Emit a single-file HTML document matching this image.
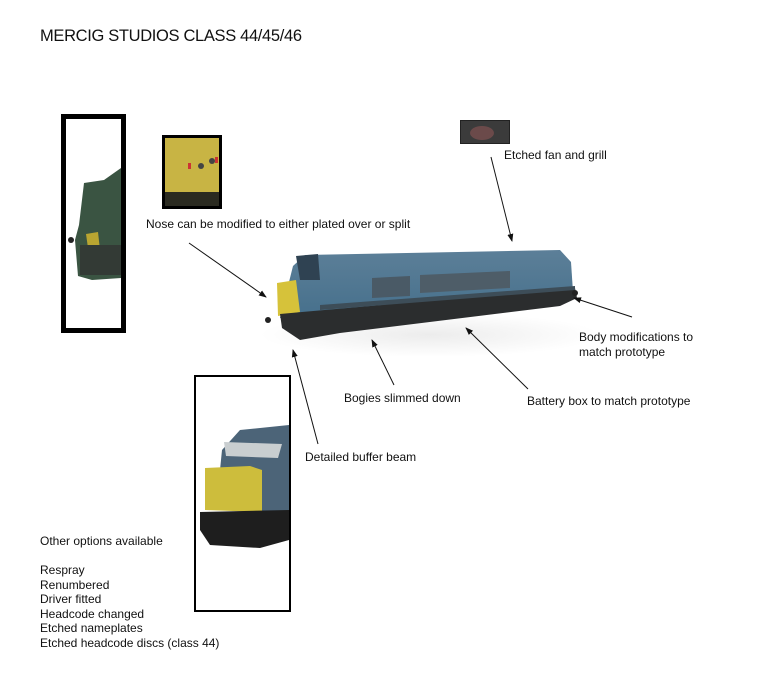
<!DOCTYPE html>
<html><head><meta charset="utf-8"><style>
html,body{margin:0;padding:0;background:#fff;}
svg{display:block;}
text{font-family:"Liberation Sans",Arial,sans-serif;fill:#111;}
</style></head><body>
<svg width="768" height="677" viewBox="0 0 768 677" xmlns="http://www.w3.org/2000/svg">
<defs>
<marker id="ah" markerWidth="8" markerHeight="8" refX="7" refY="4" orient="auto" markerUnits="userSpaceOnUse">
<path d="M0,1 L8,4 L0,7 z" fill="#111"/></marker>
<linearGradient id="blue" x1="0" y1="0" x2="0" y2="1">
<stop offset="0" stop-color="#5c7f98"/><stop offset="1" stop-color="#46708c"/></linearGradient>
<radialGradient id="shadow" cx="0.5" cy="0.5" r="0.5">
<stop offset="0" stop-color="#ececec"/><stop offset="1" stop-color="#fff"/></radialGradient>
</defs>

<text x="40" y="41" font-size="16.5" textLength="262">MERCIG STUDIOS CLASS 44/45/46</text>

<!-- left inset -->
<rect x="63.5" y="116.5" width="60" height="214" fill="#fff" stroke="#000" stroke-width="5"/>
<path d="M121,168 L104,180 L84,183 L79,225 L75,240 L78,276 L92,280 L121,278 Z" fill="#3a5442"/>
<path d="M86,234 L98,232 L100,250 L88,248 Z" fill="#b9a531"/>
<rect x="80" y="245" width="41" height="30" fill="#333a35"/>
<circle cx="71" cy="240" r="3" fill="#222"/>

<!-- nose inset -->
<rect x="163.5" y="136.5" width="57" height="71" fill="#c8b444" stroke="#000" stroke-width="3"/>
<rect x="165" y="192" width="54" height="14" fill="#2a2a20"/>
<circle cx="201" cy="166" r="3" fill="#444"/>
<circle cx="212" cy="161" r="3" fill="#444"/>
<rect x="188" y="163" width="3" height="6" fill="#c33"/><rect x="215" y="157" width="3" height="6" fill="#c33"/>

<!-- fan inset -->
<rect x="460.5" y="120.5" width="49" height="23" fill="#3b3b3b" stroke="#222"/>
<ellipse cx="482" cy="133" rx="12" ry="7" fill="#6b4a4a"/>

<!-- shadow -->
<ellipse cx="430" cy="335" rx="170" ry="22" fill="url(#shadow)"/>

<!-- loco -->
<path d="M293,266 L305,255 L560,250 L571,262 L573,292 L303,318 L280,318 Z" fill="url(#blue)"/>
<path d="M296,256 L318,254 L320,280 L300,280 Z" fill="#2f4252"/>
<path d="M277,283 L296,280 L300,312 L278,316 Z" fill="#d6c23a"/>
<path d="M280,314 L302,312 L575,288 L577,298 L560,306 L340,333 L300,340 L282,328 Z" fill="#2b2d2e"/>
<path d="M372,278 L410,276 L410,296 L372,298 Z" fill="#4a5a66"/>
<path d="M420,275 L510,271 L510,288 L420,293 Z" fill="#4e5d68"/>
<path d="M320,305 L575,286 L575,290 L320,310 Z" fill="#3d4d58"/>
<circle cx="268" cy="320" r="3" fill="#222"/><circle cx="575" cy="293" r="3" fill="#222"/>

<!-- bottom inset -->
<rect x="195" y="376" width="95" height="235" fill="#fff" stroke="#000" stroke-width="2"/>
<path d="M289,425 L240,430 L222,450 L220,470 L289,470 Z" fill="#4c6478"/>
<path d="M224,442 L282,444 L278,458 L226,456 Z" fill="#c9ced0"/>
<path d="M205,468 L250,466 L262,470 L262,512 L205,510 Z" fill="#cdbd3c"/>
<rect x="262" y="470" width="27" height="50" fill="#4c6478"/>
<path d="M200,512 L289,510 L289,540 L260,548 L210,545 L200,530 Z" fill="#1e1e1e"/>

<!-- labels -->
<text x="504" y="159" font-size="12">Etched fan and grill</text>
<text x="146" y="228" font-size="12">Nose can be modified to either plated over or split</text>
<text x="579" y="341" font-size="12">Body modifications to</text>
<text x="579" y="356" font-size="12">match prototype</text>
<text x="344" y="402" font-size="12">Bogies slimmed down</text>
<text x="527" y="405" font-size="12">Battery box to match prototype</text>
<text x="305" y="461" font-size="12">Detailed buffer beam</text>

<text x="40" y="545" font-size="12">Other options available</text>
<text x="40" y="574" font-size="12">Respray</text>
<text x="40" y="589" font-size="12">Renumbered</text>
<text x="40" y="603" font-size="12">Driver fitted</text>
<text x="40" y="618" font-size="12">Headcode changed</text>
<text x="40" y="632" font-size="12">Etched nameplates</text>
<text x="40" y="647" font-size="12">Etched headcode discs (class 44)</text>

<!-- arrows -->
<g stroke="#111" stroke-width="1" fill="none" marker-end="url(#ah)">
<line x1="491" y1="157" x2="512" y2="241"/>
<line x1="189" y1="243" x2="266" y2="297"/>
<line x1="632" y1="317" x2="574" y2="298"/>
<line x1="528" y1="389" x2="466" y2="328"/>
<line x1="394" y1="385" x2="372" y2="340"/>
<line x1="318" y1="444" x2="293" y2="350"/>
</g>
</svg>
</body></html>
